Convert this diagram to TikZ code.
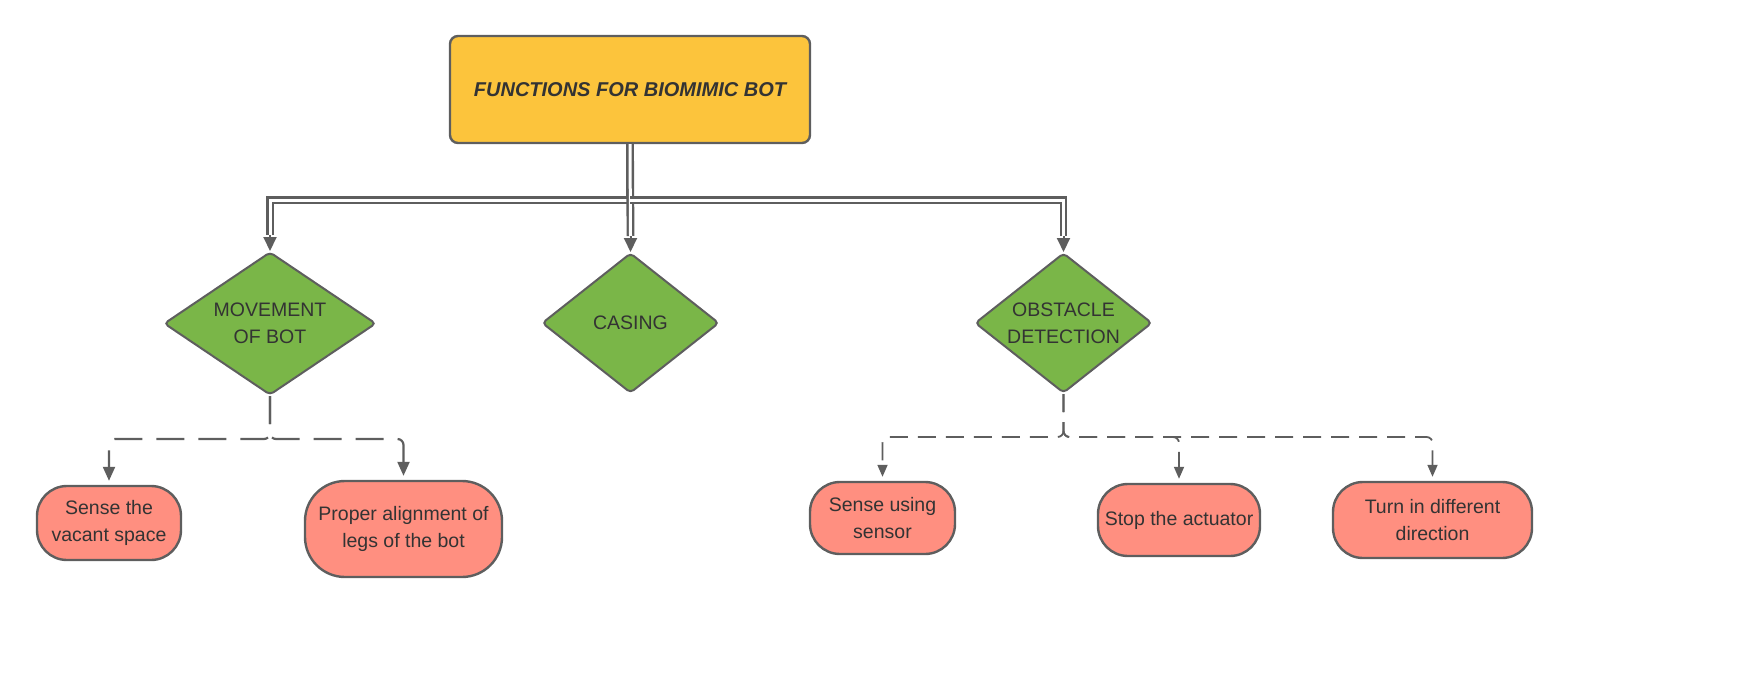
\documentclass[tikz,border=0pt]{standalone}
\usepackage{fontspec}
\setmainfont{Liberation Sans}
\usepackage{tikz}
\usetikzlibrary{shapes.geometric}
\usetikzlibrary{arrows.meta}

\definecolor{linegray}{HTML}{5E5E5E}
\definecolor{textgray}{HTML}{333333}
\definecolor{titlefill}{HTML}{FCC43C}
\definecolor{greenfill}{HTML}{7AB648}
\definecolor{pinkfill}{HTML}{FF8F80}

\tikzset{
  titlebox/.style={draw=linegray, line width=1.2pt, fill=titlefill, rounded corners=4pt,
    text=textgray, font=\fontsize{10}{12}\selectfont\bfseries\itshape,
    minimum width=180pt, minimum height=53.5pt, inner sep=0pt},
  funcbox/.style={diamond, aspect=1.5, draw=linegray, line width=1pt, fill=greenfill,
    rounded corners=2pt, text=textgray, align=center, inner sep=0pt,
    font=\fontsize{9.75}{13.5}\selectfont},
  taskbox/.style={draw=linegray, line width=1.2pt, fill=pinkfill, rounded corners=15pt,
    text=textgray, align=center, inner sep=1pt,
    font=\fontsize{9.75}{13.5}\selectfont},
  dblline/.style={draw=linegray, line width=1.2pt, double=white, double distance=1.5pt},
  tipline/.style={linegray, line width=1pt, -{Triangle[width=6.5pt,length=7pt]}},
  dashlong/.style={linegray, line width=1.1pt, dash pattern=on 14pt off 7pt,
    rounded corners=3pt, shorten >=2pt, -{Triangle[width=6pt,length=7pt]}},
  dashshort/.style={linegray, line width=0.9pt, dash pattern=on 9pt off 5pt,
    rounded corners=3pt, shorten >=2pt, -{Triangle[width=5pt,length=6pt]}}
}

\begin{document}
\begin{tikzpicture}[x=0.5pt, y=-0.5pt]
\useasboundingbox (0,0) rectangle (1740,680);

% main function
\node[titlebox] (title) at (630,89.5) {FUNCTIONS FOR BIOMIMIC BOT};

% sub functions
\node[funcbox, minimum width=106pt, minimum height=71.5pt] (move) at (270,323.5) {MOVEMENT\\OF BOT};
\node[funcbox, minimum width=88.5pt, minimum height=70pt] (casing) at (630.5,323) {CASING};
\node[funcbox, minimum width=88.5pt, minimum height=70pt] (obstacle) at (1063.5,323) {OBSTACLE\\DETECTION};

% tasks
\node[taskbox, minimum width=72pt, minimum height=37pt] (vacant) at (109,523) {Sense the\\vacant space};
\node[taskbox, minimum width=98.5pt, minimum height=48pt, rounded corners=20pt] (align) at (403.5,529) {Proper alignment of\\legs of the bot};
\node[taskbox, minimum width=72.5pt, minimum height=36pt] (sensor) at (882.5,518) {Sense using\\sensor};
\node[taskbox, minimum width=81pt, minimum height=36pt] (stop) at (1179,520) {Stop the actuator};
\node[taskbox, minimum width=99.5pt, minimum height=38pt] (turn) at (1432.5,520) {Turn in different\\direction};

% double connectors
\coordinate (split) at (630,200);
\draw[dblline] (title.south) -- (split) -| ([yshift=8pt]move.north);
\draw[dblline] (title.south) -- ([yshift=8pt]casing.north);
\draw[dblline] (split) -| ([yshift=8pt]obstacle.north);
\draw[tipline] ([yshift=8pt]move.north) -- (move.north);
\draw[tipline] ([yshift=8pt]casing.north) -- (casing.north);
\draw[tipline] ([yshift=8pt]obstacle.north) -- (obstacle.north);

% dashed connectors
\draw[dashlong] (move.south) -- ++(0,43) -| (vacant.north);
\draw[dashlong] (move.south) -- ++(0,43) -| (align.north);
\draw[dashshort] (obstacle.south) -- ++(0,43) -| (sensor.north);
\draw[dashshort] (obstacle.south) -- ++(0,43) -| (stop.north);
\draw[dashshort] (obstacle.south) -- ++(0,43) -| (turn.north);
\end{tikzpicture}
\end{document}
